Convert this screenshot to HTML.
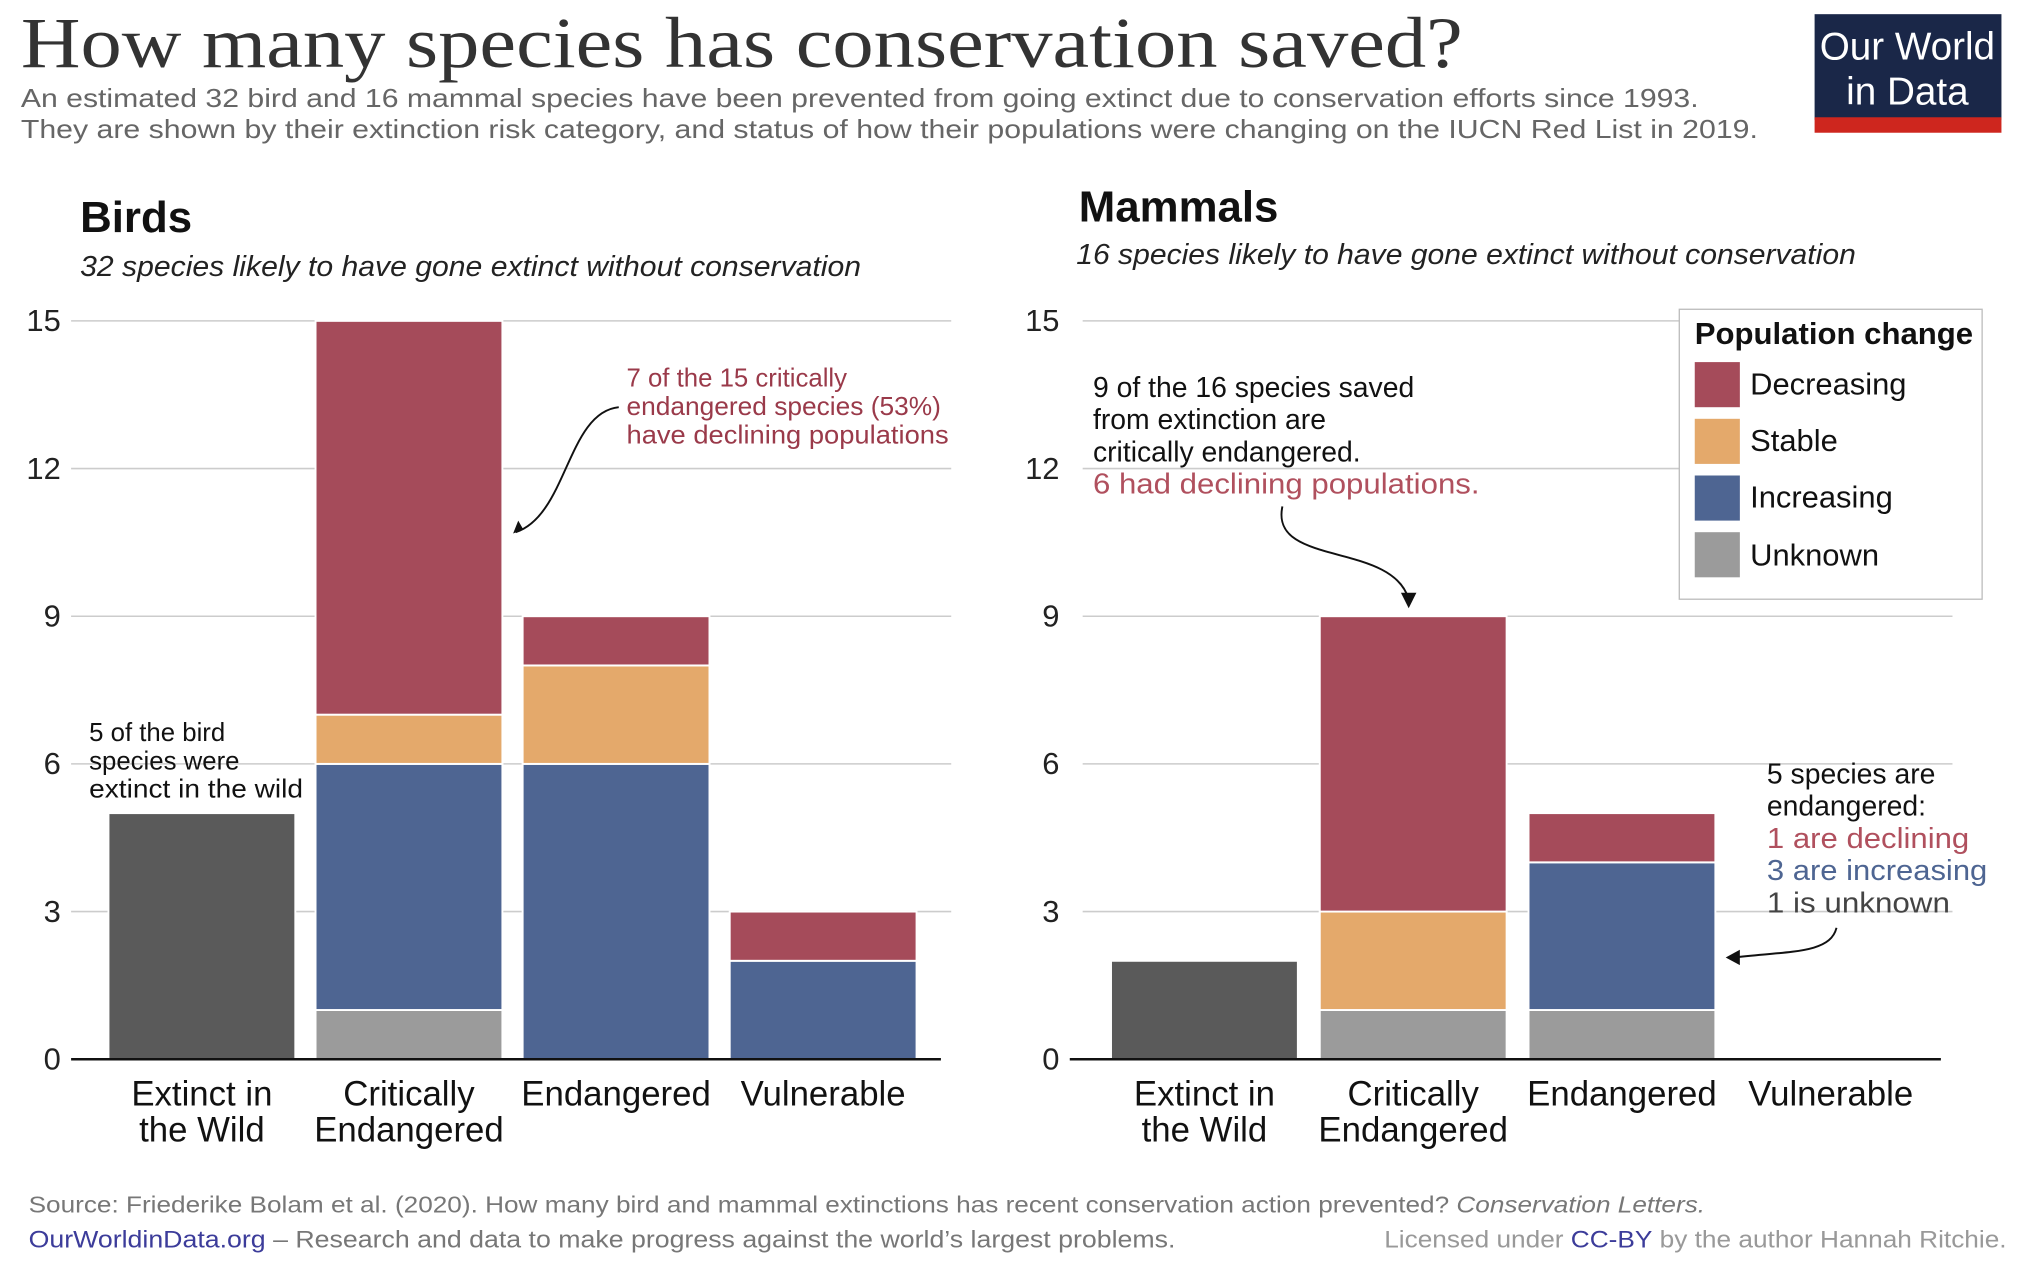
<!DOCTYPE html>
<html><head><meta charset="utf-8"><style>
html,body{margin:0;padding:0;background:#fff}
svg{display:block}
text{font-family:"Liberation Sans",sans-serif}
.serif{font-family:"Liberation Serif",serif}
</style></head><body>
<svg id="chart" width="2021" height="1268" viewBox="0 0 1568 984" xmlns="http://www.w3.org/2000/svg">
<text class="serif" x="16" y="52" font-size="56" fill="#333" textLength="1119" lengthAdjust="spacingAndGlyphs">How many species has conservation saved?</text>
<text x="16" y="83" font-size="20" fill="#666" textLength="1302" lengthAdjust="spacingAndGlyphs">An estimated 32 bird and 16 mammal species have been prevented from going extinct due to conservation efforts since 1993.</text>
<text x="16" y="107" font-size="20" fill="#666" textLength="1348" lengthAdjust="spacingAndGlyphs">They are shown by their extinction risk category, and status of how their populations were changing on the IUCN Red List in 2019.</text>
<g>
<rect x="1408" y="11" width="145" height="82" fill="#1a2748"/>
<rect x="1408" y="91" width="145" height="12" fill="#ce261e"/>
<text x="1480" y="46" font-size="30" fill="#fff" text-anchor="middle">Our World</text>
<text x="1480" y="81" font-size="30" fill="#fff" text-anchor="middle">in Data</text>
</g>
<g id="birds"></g>
<g id="mammals"></g>
<text x="62" y="180" font-size="34" font-weight="bold" fill="#111">Birds</text>
<text x="62" y="214" font-size="22" font-style="italic" fill="#222" textLength="606" lengthAdjust="spacingAndGlyphs">32 species likely to have gone extinct without conservation</text>
<text x="837" y="172" font-size="34" font-weight="bold" fill="#111">Mammals</text>
<text x="835" y="205" font-size="22" font-style="italic" fill="#222" textLength="605" lengthAdjust="spacingAndGlyphs">16 species likely to have gone extinct without conservation</text>
<g font-size="20" fill="#9a3a4a">
<text x="486" y="300">7 of the 15 critically</text>
<text x="486" y="322" textLength="244" lengthAdjust="spacingAndGlyphs">endangered species (53%)</text>
<text x="486" y="344" textLength="250" lengthAdjust="spacingAndGlyphs">have declining populations</text>
</g>
<path d="M480,316 C440,320 440,400 400,413" fill="none" stroke="#111" stroke-width="1.5"/>
<path d="M398,414 l4,-10 l4,7 z" fill="#111"/>
<g font-size="20" fill="#111">
<text x="69" y="575">5 of the bird</text>
<text x="69" y="597">species were</text>
<text x="69" y="619" textLength="166" lengthAdjust="spacingAndGlyphs">extinct in the wild</text>
</g>
<g font-size="22">
<text x="848" y="308" fill="#111">9 of the 16 species saved</text>
<text x="848" y="333" fill="#111">from extinction are</text>
<text x="848" y="358" fill="#111">critically endangered.</text>
<text x="848" y="383" fill="#b0505e" textLength="300" lengthAdjust="spacingAndGlyphs">6 had declining populations.</text>
</g>
<path d="M995,393 C985,440 1080,420 1093,465" fill="none" stroke="#111" stroke-width="1.5"/>
<path d="M1093,472 l-6,-12 l12,0 z" fill="#111"/>
<g font-size="22">
<text x="1371" y="608" fill="#111">5 species are</text>
<text x="1371" y="633" fill="#111">endangered:</text>
<text x="1371" y="658" fill="#b0505e" textLength="157" lengthAdjust="spacingAndGlyphs">1 are declining</text>
<text x="1371" y="683" fill="#4e6592" textLength="171" lengthAdjust="spacingAndGlyphs">3 are increasing</text>
<text x="1371" y="708" fill="#444" textLength="142" lengthAdjust="spacingAndGlyphs">1 is unknown</text>
</g>
<path d="M1425,720 C1420,740 1390,738 1345,743" fill="none" stroke="#111" stroke-width="1.5"/>
<path d="M1339,743 l11,-6 l0,12 z" fill="#111"/>
<g>
<rect x="1303" y="240" width="235" height="225" fill="#fff" stroke="#bbb"/>
<text x="1315" y="267" font-size="24" font-weight="bold" fill="#111" textLength="216" lengthAdjust="spacingAndGlyphs">Population change</text>
<rect x="1315" y="281" width="35" height="35" fill="#a54b5a"/><text x="1358" y="306" font-size="24" fill="#111">Decreasing</text>
<rect x="1315" y="325" width="35" height="35" fill="#e4a96b"/><text x="1358" y="350" font-size="24" fill="#111">Stable</text>
<rect x="1315" y="369" width="35" height="35" fill="#4e6592"/><text x="1358" y="394" font-size="24" fill="#111">Increasing</text>
<rect x="1315" y="413" width="35" height="35" fill="#9b9b9b"/><text x="1358" y="439" font-size="24" fill="#111">Unknown</text>
</g>
<text x="22" y="941" font-size="18" fill="#777" textLength="1301" lengthAdjust="spacingAndGlyphs">Source: Friederike Bolam et al. (2020). How many bird and mammal extinctions has recent conservation action prevented? <tspan font-style="italic">Conservation Letters.</tspan></text>
<text x="22" y="968" font-size="19" fill="#777" textLength="890" lengthAdjust="spacingAndGlyphs"><tspan fill="#3c3c9a">OurWorldinData.org</tspan> – Research and data to make progress against the world’s largest problems.</text>
<text x="1074" y="968" font-size="19" fill="#999" textLength="483" lengthAdjust="spacingAndGlyphs">Licensed under <tspan fill="#3c3c9a">CC-BY</tspan> by the author Hannah Ritchie.</text>
</svg>
<script>
const categories = ["Extinct in the Wild","Critically Endangered","Endangered","Vulnerable"];
const catLines = [["Extinct in","the Wild"],["Critically","Endangered"],["Endangered"],["Vulnerable"]];
const seriesNames = ["extinct","unknown","increasing","stable","decreasing"];
const birdsExtinct = [5,0,0,0];
const birdsUnknown = [0,1,0,0];
const birdsIncreasing = [0,5,6,2];
const birdsStable = [0,1,2,0];
const birdsDecreasing = [0,8,1,1];
const mammalsExtinct = [2,0,0,0];
const mammalsUnknown = [0,1,1,0];
const mammalsIncreasing = [0,0,3,0];
const mammalsStable = [0,2,0,0];
const mammalsDecreasing = [0,6,1,0];
const yTicks = [0,3,6,9,12,15];
const colors = {extinct:"#5a5a5a",unknown:"#9b9b9b",increasing:"#4e6592",stable:"#e4a96b",decreasing:"#a54b5a"};
const NS="http://www.w3.org/2000/svg";
function mk(tag,attrs,parent){const e=document.createElementNS(NS,tag);for(const k in attrs)e.setAttribute(k,attrs[k]);parent.appendChild(e);return e;}
function draw(gid,series,opt){
  const g=document.getElementById(gid);
  const y=v=>opt.y0-(opt.y0-opt.y15)*v/15;
  yTicks.forEach(t=>{
    if(t>0){const l=mk('line',{x1:opt.gx0,x2:opt.gx1,y1:y(t),y2:y(t),stroke:'#ccc','stroke-width':1.2},g);
    
    }
    const tx=mk('text',{x:opt.tx,y:y(t)+8,'font-size':24,fill:'#222','text-anchor':'end'},g);
    tx.textContent=t;
    
    
  });
  categories.forEach((c,i)=>{
    const x=opt.bx0+i*opt.step;
    let acc=0;
    seriesNames.forEach((s,si)=>{
      const v=series[si][i];
      if(v>0){
        const r=mk('rect',{x:x,y:y(acc+v),width:opt.bw,height:y(acc)-y(acc+v),fill:colors[s],stroke:'#fff','stroke-width':1.5},g);
        
        
        acc+=v;
      }
    });
    catLines[i].forEach((ln,li)=>{
      const t=mk('text',{x:x+opt.bw/2,y:858+li*28,'font-size':27,fill:'#111','text-anchor':'middle'},g);
      t.textContent=ln;
      
      
    });
  });
  const ax=mk('line',{x1:opt.ax0,x2:opt.ax1,y1:opt.y0,y2:opt.y0,stroke:'#111','stroke-width':2},g);
  
  
}
draw('birds',[birdsExtinct,birdsUnknown,birdsIncreasing,birdsStable,birdsDecreasing],{y0:822,y15:249,gx0:55,gx1:738,tx:47,bx0:84,step:160.7,bw:145,ax0:55,ax1:730});
draw('mammals',[mammalsExtinct,mammalsUnknown,mammalsIncreasing,mammalsStable,mammalsDecreasing],{y0:822,y15:249,gx0:840,gx1:1515,tx:822,bx0:862,step:162,bw:145,ax0:830,ax1:1506});
</script>
</body></html>
